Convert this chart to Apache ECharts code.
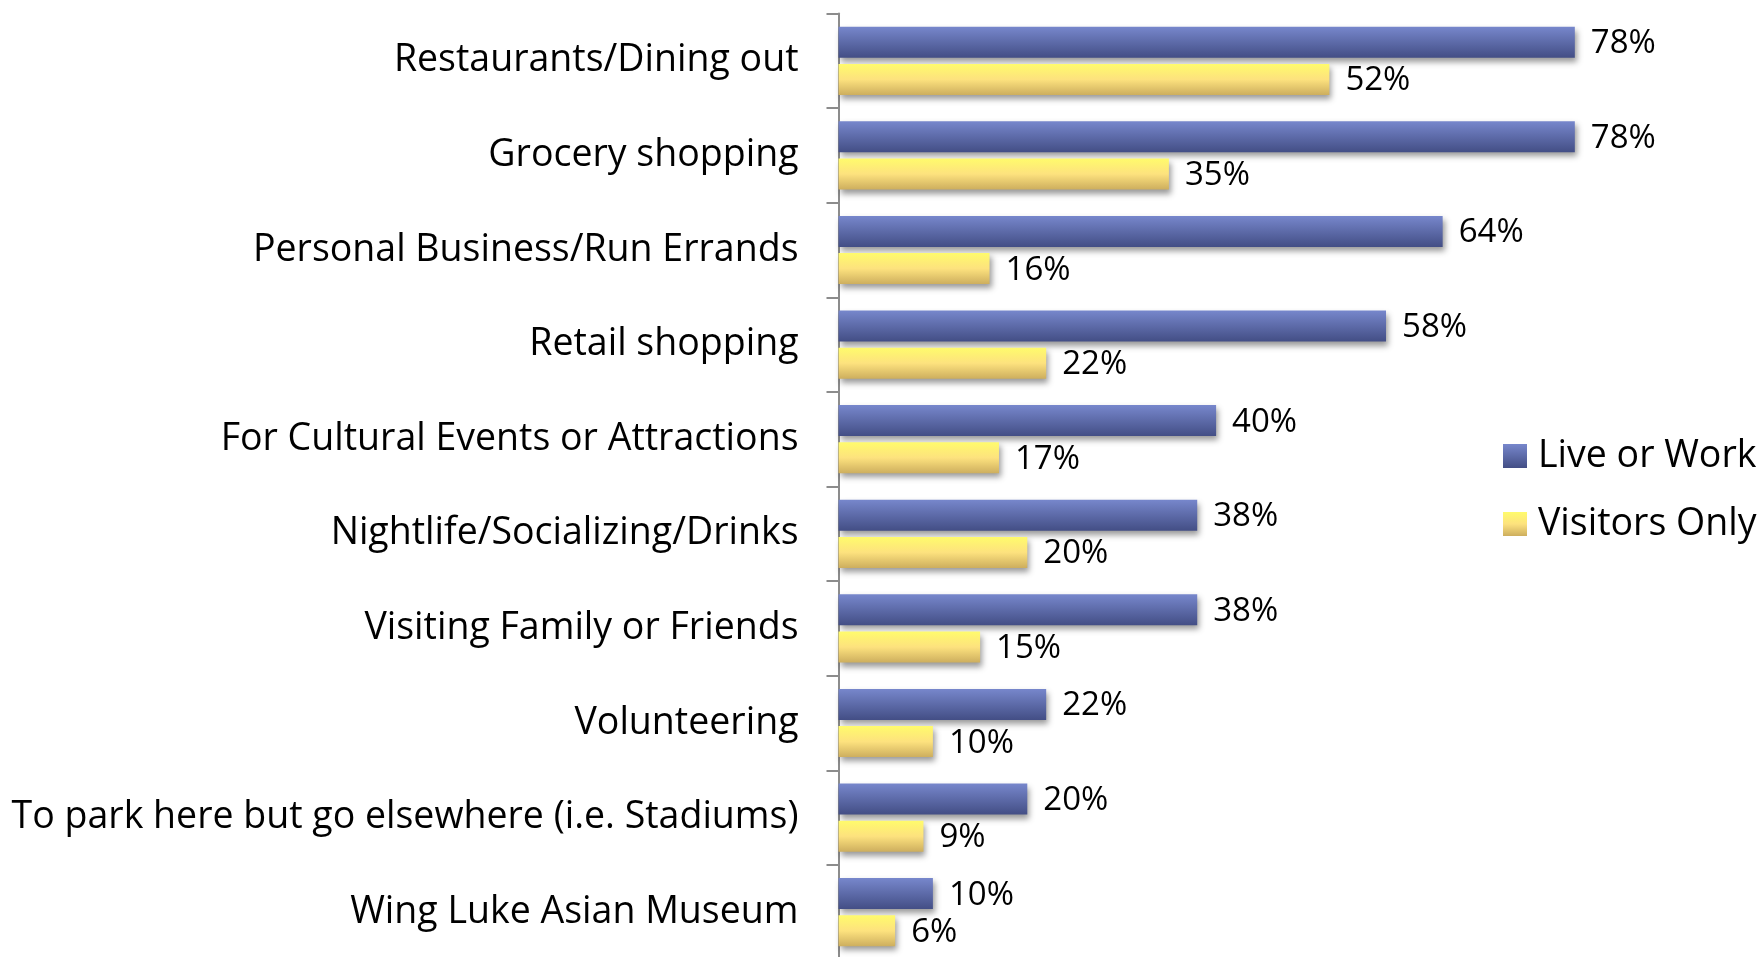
<!DOCTYPE html>
<html>
<head>
<meta charset="utf-8">
<script src="https://cdn.jsdelivr.net/npm/echarts@6/dist/echarts.min.js"></script>
<style>
html,body{margin:0;padding:0;background:#fff;}
#chart{width:1762px;height:957px;}
</style>
</head>
<body>
<div id="chart"></div>
<script>
const categories = [
  "Restaurants/Dining out",
  "Grocery shopping",
  "Personal Business/Run Errands",
  "Retail shopping",
  "For Cultural Events or Attractions",
  "Nightlife/Socializing/Drinks",
  "Visiting Family or Friends",
  "Volunteering",
  "To park here but go elsewhere (i.e. Stadiums)",
  "Wing Luke Asian Museum"
];
const liveOrWork = [78, 78, 64, 58, 40, 38, 38, 22, 20, 10];
const visitorsOnly = [52, 35, 16, 22, 17, 20, 15, 10, 9, 6];
const seriesNames = ["Live or Work", "Visitors Only"];

const FONT = "Open Sans";
const FS = 37.5;
const FS_VAL = 33;

const blueGrad = new echarts.graphic.LinearGradient(0, 0, 0, 1, [
  {offset: 0, color: "#7787CC"},
  {offset: 1, color: "#434E85"}
]);
const yellowGrad = new echarts.graphic.LinearGradient(0, 0, 0, 1, [
  {offset: 0, color: "#FFFB6C"},
  {offset: 0.5, color: "#FDE27E"},
  {offset: 1, color: "#CDAE5E"}
]);

const chart = echarts.init(document.getElementById("chart"), null, {renderer: "canvas"});
const barCommon = {
  type: "bar",
  barWidth: 31,
  barGap: "20%",
  animation: false,
  label: {
    show: true,
    position: "right",
    distance: 16,
    offset: [0, 1.5],
    formatter: "{c}%",
    color: "#000",
    fontFamily: FONT,
    fontSize: FS_VAL
  }
};
chart.setOption({
  animation: false,
  textStyle: {fontFamily: FONT},
  grid: {left: 838.5, top: 13.5, width: 755.2, height: 946, containLabel: false, outerBoundsMode: "none"},
  legend: {
    orient: "vertical",
    left: 1498,
    top: 431,
    itemWidth: 24,
    itemHeight: 24,
    itemGap: 28,
    icon: "rect",
    textStyle: {color: "#000", fontFamily: FONT, fontSize: FS, lineHeight: 40, padding: [0, 0, 0, 6]},
    data: seriesNames
  },
  xAxis: {
    type: "value",
    min: 0,
    max: 80,
    show: false
  },
  yAxis: {
    type: "category",
    data: categories,
    inverse: true,
    axisLine: {show: true, lineStyle: {color: "#8c8c8c", width: 2}},
    axisTick: {show: true, length: 12, lineStyle: {color: "#8c8c8c", width: 2}},
    axisLabel: {color: "#000", fontFamily: FONT, fontSize: FS, margin: 40, padding: [3, 0, 0, 0]},
    splitLine: {show: false}
  },
  series: [
    Object.assign({}, barCommon, {
      name: seriesNames[0],
      data: liveOrWork,
      itemStyle: {color: blueGrad, shadowColor: "rgba(0,0,0,0.4)", shadowBlur: 6, shadowOffsetX: 2, shadowOffsetY: 4}
    }),
    Object.assign({}, barCommon, {
      name: seriesNames[1],
      data: visitorsOnly,
      itemStyle: {color: yellowGrad, shadowColor: "rgba(0,0,0,0.4)", shadowBlur: 6, shadowOffsetX: 2, shadowOffsetY: 4}
    })
  ]
});
</script>
</body>
</html>
